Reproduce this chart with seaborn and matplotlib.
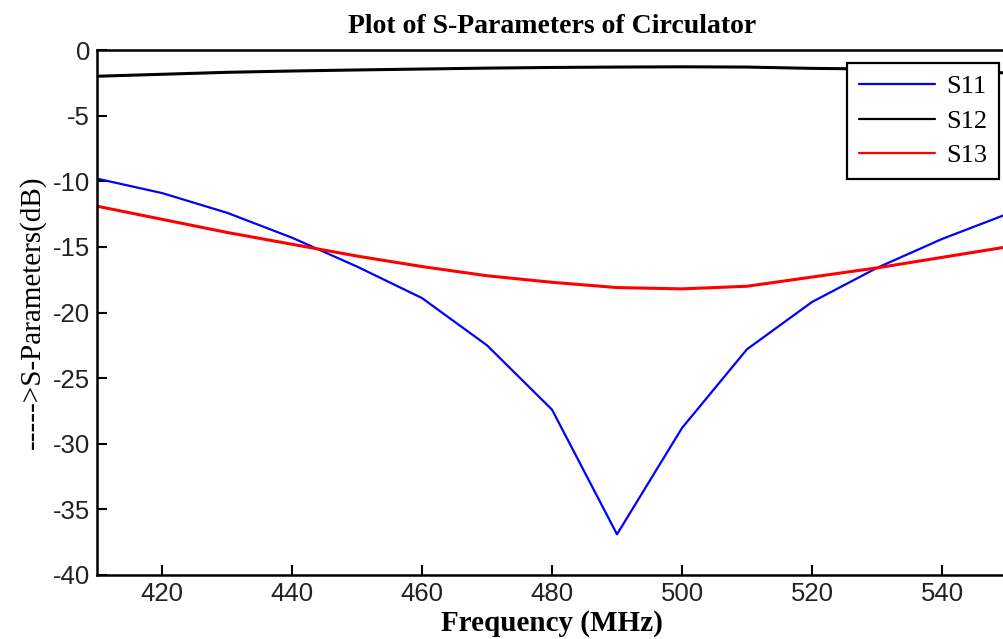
import numpy as np
import pandas as pd
import seaborn as sns
import matplotlib.pyplot as plt
from matplotlib.lines import Line2D

freq = [410, 420, 430, 440, 450, 460, 470, 480, 490, 500, 510, 520, 530, 540, 550]
s11 = [-9.8, -10.9, -12.4, -14.3, -16.5, -18.9, -22.5, -27.4, -36.9, -28.8, -22.8, -19.2, -16.6, -14.4, -12.5]
s12 = [-2.0, -1.85, -1.7, -1.6, -1.52, -1.45, -1.38, -1.33, -1.3, -1.28, -1.3, -1.4, -1.45, -1.55, -1.75]
s13 = [-11.9, -12.9, -13.9, -14.8, -15.7, -16.5, -17.2, -17.7, -18.1, -18.2, -18.0, -17.3, -16.6, -15.8, -15.0]

df = pd.DataFrame({'Frequency': freq * 3,
                   'dB': s11 + s12 + s13,
                   'Param': ['S11'] * 15 + ['S12'] * 15 + ['S13'] * 15})

sns.set_style('white')
plt.rcParams['font.family'] = ['Liberation Sans', 'DejaVu Sans']
plt.rcParams['axes.unicode_minus'] = False

fig = plt.figure(figsize=(10.04, 6.39), dpi=100)
ax = fig.add_axes([97 / 1004, 1 - 575 / 639, 910 / 1004, 525 / 639])

sns.lineplot(data=df, x='Frequency', y='dB', hue='Param', ax=ax,
             palette={'S11': '#0000ff', 'S12': '#000000', 'S13': '#ff0000'},
             size='Param', sizes={'S11': 1.6, 'S12': 2.2, 'S13': 2.2}, legend=False)

ax.set_xlim(410, 550)
ax.set_ylim(-40, 0)
ax.set_xticks(range(420, 541, 20))
ax.set_yticks(range(-40, 1, 5))
ax.tick_params(bottom=True, left=True, direction='in', length=7, width=1.5, labelsize=18.5,
               colors='black', labelcolor='#222222', pad=5)
for sp in ax.spines.values():
    sp.set_linewidth(1.8)
    sp.set_color('black')

serif = ['Liberation Serif', 'DejaVu Serif']
ax.set_title('Plot of S-Parameters of Circulator', family=serif, weight='bold', fontsize=20,
             color='black', pad=12)
ax.set_xlabel('Frequency (MHz)', family=serif, weight='bold', fontsize=21, color='black', labelpad=3)
ax.set_ylabel('----->S-Parameters(dB)', family=serif, fontsize=21, color='black', labelpad=5)

handles = [Line2D([], [], color='#0000ff', lw=1.6),
           Line2D([], [], color='#000000', lw=1.6),
           Line2D([], [], color='#ff0000', lw=1.6)]
leg = ax.legend(handles, ['S11', 'S12', 'S13'], loc='upper left',
                bbox_to_anchor=(847 / 1004, 1 - 63 / 639), bbox_transform=fig.transFigure,
                prop={'family': serif, 'size': 19}, fancybox=False, framealpha=1,
                edgecolor='black', handlelength=2.9, borderpad=0.45, labelspacing=0.42,
                handletextpad=0.4, borderaxespad=0)
leg.get_frame().set_linewidth(1.6)
for t in leg.get_texts():
    t.set_color('black')

fig.savefig('out.png', dpi=100)
